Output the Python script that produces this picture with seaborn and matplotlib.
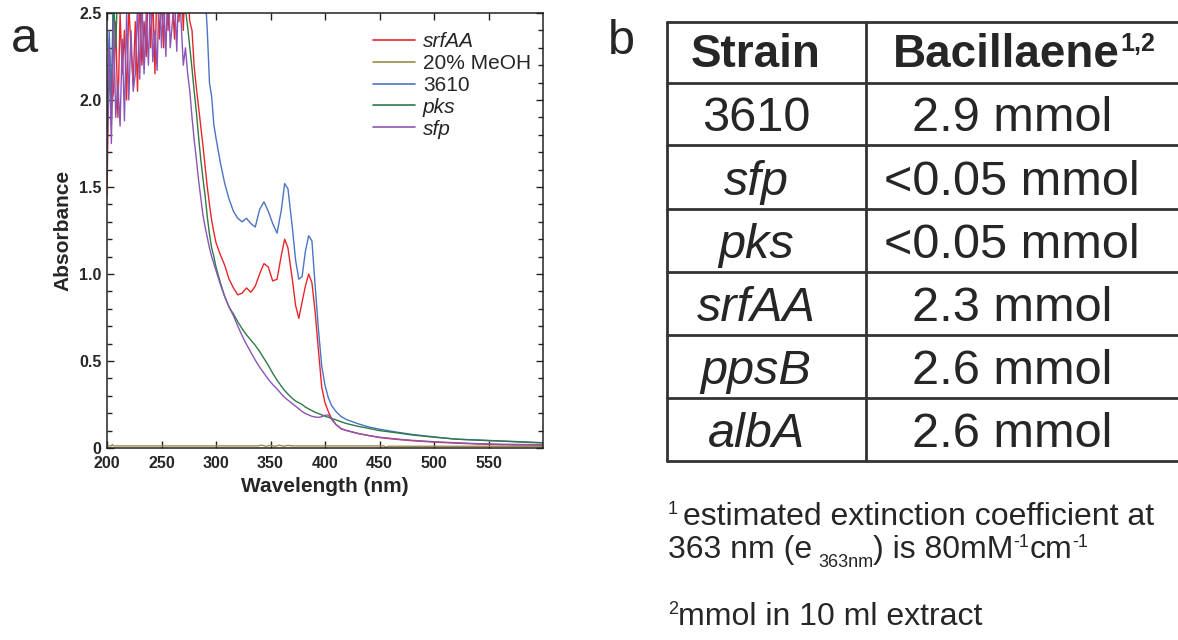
import numpy as np
import pandas as pd
import matplotlib
matplotlib.use("Agg")
import matplotlib.pyplot as plt
import seaborn as sns
from matplotlib.lines import Line2D
from matplotlib.ticker import MultipleLocator

sns.set_style("ticks")
plt.rcParams["font.family"] = ["Liberation Sans", "DejaVu Sans"]

# ---------------- spectra (absorbance vs wavelength, nm) ----------------
WL_SCAN = [200, 202, 204, 206, 208, 210, 212, 214, 216, 218, 220, 222, 224, 226,
           228, 230, 232, 234, 236, 238, 240, 242, 244, 246, 248, 250, 252, 254,
           256, 258, 260, 262, 264, 266, 268, 270, 272, 274, 276, 278, 280, 282, 284]
WL_TAIL = [286, 288, 290, 292, 294, 296, 298, 300, 304, 308, 312, 316, 320, 324,
           328, 332, 336, 340, 344, 348, 352, 356, 360, 363, 366, 370, 373, 376,
           379, 382, 385, 388, 391, 394, 397, 400, 403, 406, 410, 415, 420, 430,
           440, 450, 465, 480, 500, 520, 540, 560, 580, 600]

SRFAA_SCAN = [1.45, 2.35, 1.95, 2.05, 2.45, 1.90, 2.50, 2.15, 2.40, 2.00,
              2.55, 2.30, 2.10, 2.45, 2.05, 2.60, 2.20, 2.45, 2.25, 2.70,
              2.30, 2.60, 2.15, 2.75, 2.35, 2.60, 2.30, 2.80, 2.40, 2.70,
              2.55, 2.35, 2.80, 2.45, 2.75, 2.40, 2.80, 2.60, 2.45, 2.40,
              2.19, 2.07, 1.96]
SRFAA_TAIL = [1.85, 1.74, 1.62, 1.50, 1.40, 1.31, 1.24, 1.18, 1.11, 1.05,
              0.97, 0.92, 0.88, 0.89, 0.92, 0.895, 0.93, 1.00, 1.06, 1.04,
              0.96, 0.97, 1.11, 1.20, 1.15, 0.97, 0.82, 0.745, 0.84, 0.93,
              1.00, 0.95, 0.78, 0.56, 0.35, 0.26, 0.21, 0.17, 0.135, 0.11,
              0.10, 0.084, 0.072, 0.060, 0.050, 0.042, 0.034, 0.028, 0.023, 0.019,
              0.017, 0.016]

S3610_SCAN = [1.80, 2.40, 2.00, 2.70, 2.90, 3.10, 3.00, 3.20, 3.10, 3.30,
              3.15, 3.25, 3.10, 3.30, 3.20, 3.35, 3.20, 3.30, 3.15, 3.35,
              3.25, 3.30, 3.20, 3.35, 3.25, 3.30, 3.20, 3.35, 3.25, 3.30,
              3.20, 3.30, 3.25, 3.35, 3.20, 3.30, 3.25, 3.20, 3.15, 3.10,
              3.05, 3.00, 2.95]
S3610_TAIL = [2.90, 2.80, 2.62, 2.40, 2.10, 2.02, 1.86, 1.78, 1.64, 1.52,
              1.43, 1.36, 1.32, 1.30, 1.32, 1.29, 1.27, 1.37, 1.415, 1.36,
              1.29, 1.235, 1.37, 1.52, 1.49, 1.27, 1.08, 0.97, 0.985, 1.13,
              1.22, 1.19, 0.93, 0.68, 0.47, 0.36, 0.29, 0.245, 0.21, 0.18,
              0.163, 0.14, 0.121, 0.108, 0.092, 0.078, 0.064, 0.051, 0.046, 0.041,
              0.036, 0.030]

PKS_SCAN = [1.75, 2.20, 1.85, 2.60, 2.30, 2.70, 2.50, 2.80, 2.60, 2.90,
            2.70, 2.95, 2.75, 2.90, 2.70, 3.00, 2.75, 2.90, 2.70, 3.00,
            2.80, 2.95, 2.75, 3.00, 2.80, 2.95, 2.70, 3.00, 2.80, 2.90,
            2.75, 3.00, 2.80, 2.85, 2.70, 2.60, 2.52, 2.42, 2.30, 2.18,
            2.05, 1.93, 1.79]
PKS_TAIL = [1.66, 1.55, 1.45, 1.33, 1.23, 1.15, 1.10, 1.04, 0.95, 0.87,
            0.81, 0.77, 0.725, 0.685, 0.65, 0.62, 0.59, 0.555, 0.515, 0.475,
            0.43, 0.39, 0.355, 0.33, 0.31, 0.285, 0.27, 0.26, 0.25, 0.235,
            0.225, 0.215, 0.205, 0.198, 0.19, 0.183, 0.177, 0.17, 0.162, 0.15,
            0.14, 0.125, 0.113, 0.10, 0.088, 0.075, 0.062, 0.051, 0.045, 0.040,
            0.034, 0.030]

SFP_SCAN = [1.60, 2.30, 1.75, 2.45, 1.90, 2.10, 1.85, 2.35, 1.88, 2.50,
            2.00, 2.40, 2.05, 2.15, 2.55, 2.12, 2.60, 2.15, 2.50, 2.20,
            2.65, 2.22, 2.40, 2.17, 2.70, 2.30, 2.60, 2.25, 2.75, 2.30,
            2.45, 2.60, 2.28, 2.70, 2.45, 2.20, 2.30, 2.15, 2.05, 1.90,
            1.77, 1.66, 1.54]
SFP_TAIL = [1.44, 1.34, 1.27, 1.21, 1.15, 1.10, 1.06, 1.02, 0.94, 0.87,
            0.81, 0.76, 0.70, 0.645, 0.595, 0.55, 0.505, 0.465, 0.43, 0.395,
            0.365, 0.34, 0.31, 0.29, 0.275, 0.255, 0.24, 0.225, 0.21, 0.198,
            0.19, 0.182, 0.178, 0.176, 0.18, 0.188, 0.19, 0.165, 0.135, 0.11,
            0.10, 0.084, 0.071, 0.062, 0.052, 0.044, 0.036, 0.030, 0.025, 0.022,
            0.020, 0.020]

WL_MEOH = [200, 204, 205, 206, 210, 260, 300, 338, 342, 346, 350, 354, 358,
           362, 366, 370, 400, 454, 456, 458, 500, 550, 600]
MEOH = [0.012, 0.012, 0.020, 0.012, 0.012, 0.012, 0.012, 0.012, 0.016, 0.010,
        0.016, 0.009, 0.016, 0.010, 0.015, 0.012, 0.012, 0.012, 0.004, 0.010,
        0.010, 0.010, 0.010]

SAMPLES = ["srfAA", "20% MeOH", "3610", "pks", "sfp"]
ITALIC = {"srfAA", "pks", "sfp"}
PALETTE = {"srfAA": "#e8262a", "20% MeOH": "#9c8b4c", "3610": "#4a74c4",
           "pks": "#2f7a46", "sfp": "#8b55b5"}

X_TICKS = [200, 250, 300, 350, 400, 450, 500, 550]
Y_TICKS = [0, 0.5, 1.0, 1.5, 2.0, 2.5]
Y_TICK_LABELS = ["0", "0.5", "1.0", "1.5", "2.0", "2.5"]

# ---------------- table of bacillaene yields ----------------
HEADER_STRAIN = "Strain"
HEADER_YIELD = "Bacillaene"
HEADER_YIELD_NOTE = "1,2"
STRAINS = ["3610", "sfp", "pks", "srfAA", "ppsB", "albA"]
STRAIN_ITALIC = [False, True, True, True, True, True]
YIELDS = ["2.9 mmol", "<0.05 mmol", "<0.05 mmol", "2.3 mmol", "2.6 mmol", "2.6 mmol"]

W, H = 1178, 640
fig = plt.figure(figsize=(W / 100, H / 100), dpi=100)
renderer = fig.canvas.get_renderer()


def fx(px):
    return px / W


def fy(py):
    return 1 - py / H


def text_width(t):
    return t.get_window_extent(renderer).width


def run_of_text(x_px, base_px, pieces):
    """Lay out (text, size, rise_px, gap_before_px, weight) pieces along one baseline."""
    x = x_px
    for txt, size, rise, gap, weight in pieces:
        x += gap
        t = fig.text(fx(x), fy(base_px - rise), txt, fontsize=size,
                     fontweight=weight, ha="left", va="baseline")
        x += text_width(t)
    return x


ax = fig.add_axes([fx(107), fy(448), (543 - 107) / W, (448 - 13) / H])

series = {
    "srfAA": (WL_SCAN + WL_TAIL, SRFAA_SCAN + SRFAA_TAIL),
    "20% MeOH": (WL_MEOH, MEOH),
    "3610": (WL_SCAN + WL_TAIL, S3610_SCAN + S3610_TAIL),
    "pks": (WL_SCAN + WL_TAIL, PKS_SCAN + PKS_TAIL),
    "sfp": (WL_SCAN + WL_TAIL, SFP_SCAN + SFP_TAIL),
}
frames = [pd.DataFrame({"Wavelength": wl, "Absorbance": a, "Sample": name})
          for name, (wl, a) in series.items()]
df = pd.concat(frames, ignore_index=True)

sns.lineplot(data=df, x="Wavelength", y="Absorbance", hue="Sample",
             hue_order=SAMPLES, palette=PALETTE, estimator=None, sort=False,
             linewidth=1.0, legend=False, ax=ax)

ax.set_xlim(200, 600)
ax.set_ylim(0, 2.5)
ax.set_xticks(X_TICKS, [str(t) for t in X_TICKS])
ax.set_yticks(Y_TICKS, Y_TICK_LABELS)
ax.yaxis.set_minor_locator(MultipleLocator(0.1))
ax.tick_params(which="both", direction="in", top=True, right=True,
               width=1.0, color="#222222")
ax.tick_params(which="major", length=5)
ax.tick_params(which="minor", length=3.5)
ax.tick_params(axis="x", pad=6)
ax.tick_params(axis="y", pad=4)
for lab in ax.get_xticklabels() + ax.get_yticklabels():
    lab.set_fontweight("bold")
    lab.set_fontsize(11.5)
for sp in ax.spines.values():
    sp.set_linewidth(1.1)
    sp.set_color("#222222")
ax.set_xlabel("Wavelength (nm)", fontsize=15, fontweight="bold", labelpad=4)
ax.set_ylabel("Absorbance", fontsize=15, fontweight="bold", labelpad=5)

handles = [Line2D([], [], color=PALETTE[s], lw=1.2) for s in SAMPLES]
leg = ax.legend(handles, SAMPLES, loc="upper right",
                bbox_to_anchor=((531 - 107) / 436, 1 - (32 - 13) / 435),
                frameon=False, fontsize=15, handlelength=2.0,
                handletextpad=0.4, labelspacing=0.14, borderpad=0,
                borderaxespad=0)
for txt in leg.get_texts():
    if txt.get_text() in ITALIC:
        txt.set_fontstyle("italic")

# panel letters
fig.text(fx(11), fy(52), "a", fontsize=35, va="baseline", ha="left")
fig.text(fx(608), fy(54), "b", fontsize=35, va="baseline", ha="left")

# table grid
row_lines = [22, 83, 145, 209, 272, 335, 398, 461]
grid_kw = dict(color="#333333", lw=2.0, transform=fig.transFigure)
for yy in row_lines:
    fig.add_artist(Line2D([fx(667), fx(1178)], [fy(yy), fy(yy)], **grid_kw))
for xx in (667, 866):
    fig.add_artist(Line2D([fx(xx), fx(xx)], [fy(22), fy(461)], **grid_kw))

fig.text(fx(756), fy(67), HEADER_STRAIN, fontsize=33, fontweight="bold",
         ha="center", va="baseline")
# header of the yield column with its footnote marks
probe = fig.text(0, 0, HEADER_YIELD, fontsize=33, fontweight="bold")
w_main = text_width(probe)
probe.remove()
probe = fig.text(0, 0, HEADER_YIELD_NOTE, fontsize=18, fontweight="bold")
w_note = text_width(probe)
probe.remove()
x0 = 1024 - (w_main + 1 + w_note) / 2
run_of_text(x0, 67, [(HEADER_YIELD, 33, 0, 0, "bold"),
                     (HEADER_YIELD_NOTE, 18, 16, 1, "bold")])

for i, (strain, ital, val) in enumerate(zip(STRAINS, STRAIN_ITALIC, YIELDS)):
    base = row_lines[i + 2] - 14
    fig.text(fx(756), fy(base), strain, fontsize=35,
             fontstyle="italic" if ital else "normal", ha="center", va="baseline")
    fig.text(fx(1012), fy(base), val, fontsize=35, ha="center", va="baseline")

# footnotes
run_of_text(668, 525, [("1", 13, 11, 0, "normal"),
                       ("estimated extinction coefficient at", 23, 0, 5, "normal")])
run_of_text(668, 558, [("363 nm (e", 23, 0, 0, "normal"),
                       ("363nm", 13, -9, 6, "normal"),
                       (") is 80mM", 23, 0, 0, "normal"),
                       ("-1", 13, 11, 0, "normal"),
                       ("cm", 23, 0, 0, "normal"),
                       ("-1", 13, 11, 0, "normal")])
run_of_text(668, 625, [("2", 13, 11, 0, "normal"),
                       ("mmol in 10 ml extract", 23, 0, 0, "normal")])

fig.savefig("out.png", dpi=100)
